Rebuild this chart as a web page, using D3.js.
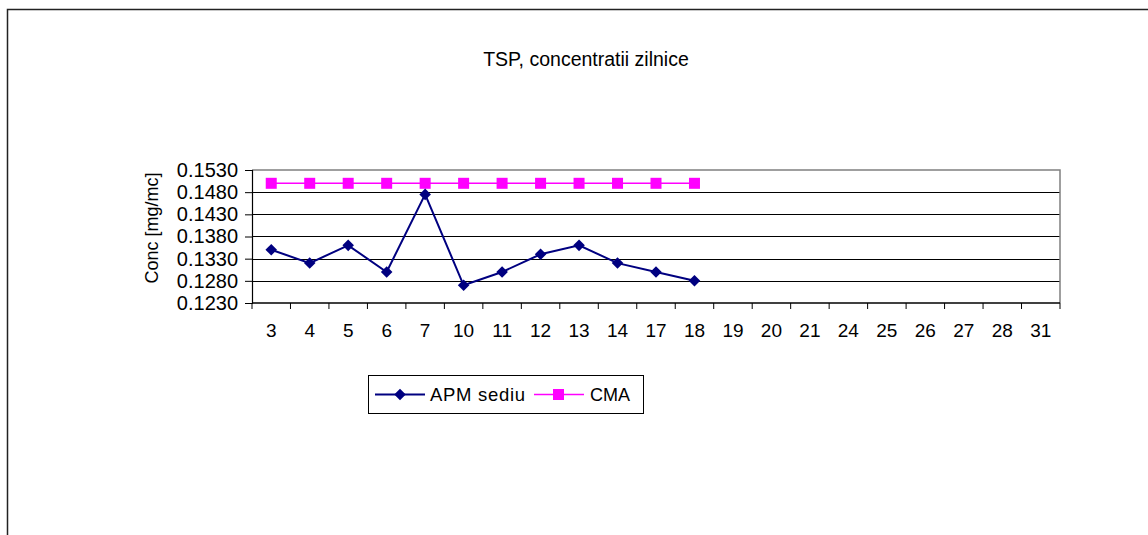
<!DOCTYPE html>
<html>
<head>
<meta charset="utf-8">
<script src="https://cdn.jsdelivr.net/npm/d3@7"></script>
<style>
body { margin: 0; background: #fff; }
text { font-family: "Liberation Sans", Arial, sans-serif; fill: #000; }
</style>
</head>
<body>
<svg id="chart" width="1148" height="535"></svg>
<script>
/// Data

var days = ["3","4","5","6","7","10","11","12","13","14","17","18","19","20","21","24","25","26","27","28","31"];
var apmSediu = [0.135, 0.132, 0.136, 0.130, 0.1475, 0.127, 0.130, 0.134, 0.136, 0.132, 0.130, 0.128];
var cma = [0.150, 0.150, 0.150, 0.150, 0.150, 0.150, 0.150, 0.150, 0.150, 0.150, 0.150, 0.150];
var yTicks = [0.123, 0.128, 0.133, 0.138, 0.143, 0.148, 0.153];

var svg = d3.select("#chart");

// outer frame (chart area border)
svg.append("path")
	.attr("d", "M7.5,535 L7.5,9.5 L1148,9.5")
	.attr("fill", "none")
	.attr("stroke", "#222")
	.attr("stroke-width", 1.5);

var plotLeft = 252, plotRight = 1060, plotTop = 170, plotBottom = 303;

var x = d3.scaleBand().domain(days).range([plotLeft, plotRight]);
var y = d3.scaleLinear().domain([0.123, 0.153]).range([plotBottom, plotTop]);

// gridlines
svg.append("g")
	.selectAll("line")
	.data(yTicks.slice(1, -1))
	.enter()
	.append("line")
	.attr("x1", plotLeft).attr("x2", plotRight)
	.attr("y1", d => Math.round(y(d)) + 0.5).attr("y2", d => Math.round(y(d)) + 0.5)
	.attr("stroke", "#000")
	.attr("stroke-width", 1);

// plot area border (top/right gray)
svg.append("path")
	.attr("d", "M" + plotLeft + "," + plotTop + " L" + plotRight + "," + plotTop + " L" + plotRight + "," + plotBottom)
	.attr("fill", "none")
	.attr("stroke", "#808080")
	.attr("stroke-width", 1.5);

// y axis
var yAxis = d3.axisLeft(y)
	.tickValues(yTicks)
	.tickFormat(d3.format(".4f"))
	.tickSize(7)
	.tickPadding(7);
var gy = svg.append("g").attr("transform", "translate(" + plotLeft + ",0)").call(yAxis);
gy.select(".domain").attr("stroke", "#000").attr("stroke-width", 1.2);
gy.selectAll(".tick line").attr("stroke", "#000");
gy.selectAll("text")
	.style("font-size", "20px")
	.style("font-family", "Liberation Sans, Arial, sans-serif")
	.attr("fill", "#000");

// x axis: ticks between categories
var gx = svg.append("g").attr("transform", "translate(0," + plotBottom + ")");
gx.append("line")
	.attr("x1", plotLeft).attr("x2", plotRight)
	.attr("stroke", "#000").attr("stroke-width", 1.5);
gx.selectAll("line.tk")
	.data(days.concat(["end"]))
	.enter()
	.append("line")
	.attr("class", "tk")
	.attr("x1", (d, i) => plotLeft + i * x.bandwidth())
	.attr("x2", (d, i) => plotLeft + i * x.bandwidth())
	.attr("y1", 0).attr("y2", 6)
	.attr("stroke", "#000");
gx.selectAll("text")
	.data(days)
	.enter()
	.append("text")
	.attr("x", d => x(d) + x.bandwidth() / 2)
	.attr("y", 34)
	.attr("text-anchor", "middle")
	.style("font-size", "19px")
	.text(d => d);

// y label
svg.append("text")
	.attr("transform", "translate(158,228) rotate(-90)")
	.attr("text-anchor", "middle")
	.style("font-size", "18px")
	.text("Conc [mg/mc]");

// title
svg.append("text")
	.attr("x", 586).attr("y", 66)
	.attr("text-anchor", "middle")
	.style("font-size", "19.5px")
	.text("TSP, concentratii zilnice");

var cx = (d, i) => x(days[i]) + x.bandwidth() / 2;
var line = d3.line().x((d, i) => cx(d, i)).y(d => y(d));

// CMA series
svg.append("path")
	.datum(cma)
	.attr("d", line)
	.attr("fill", "none")
	.attr("stroke", "#FF00FF")
	.attr("stroke-width", 1.5);
svg.selectAll("rect.cma")
	.data(cma)
	.enter()
	.append("rect")
	.attr("class", "cma")
	.attr("x", (d, i) => cx(d, i) - 5.5)
	.attr("y", d => y(d) - 5.5)
	.attr("width", 11).attr("height", 11)
	.attr("fill", "#FF00FF");

// APM sediu series
var diamond = d3.symbol().type(d3.symbolDiamond2).size(85);
svg.append("path")
	.datum(apmSediu)
	.attr("d", line)
	.attr("fill", "none")
	.attr("stroke", "#000080")
	.attr("stroke-width", 2);
svg.selectAll("path.apm")
	.data(apmSediu)
	.enter()
	.append("path")
	.attr("class", "apm")
	.attr("d", diamond)
	.attr("transform", (d, i) => "translate(" + cx(d, i) + "," + y(d) + ")")
	.attr("fill", "#000080");

/// Legend

var lg = svg.append("g").attr("transform", "translate(368,375)");
lg.append("rect")
	.attr("x", 0.5).attr("y", 0.5)
	.attr("width", 275).attr("height", 38)
	.attr("fill", "#fff").attr("stroke", "#000").attr("stroke-width", 1);

lg.append("line").attr("x1", 7).attr("x2", 57).attr("y1", 19.5).attr("y2", 19.5)
	.attr("stroke", "#000080").attr("stroke-width", 2);
lg.append("path").attr("d", diamond).attr("transform", "translate(32,19.5)").attr("fill", "#000080");
lg.append("text").attr("x", 62).attr("y", 26)
	.attr("textLength", 95).attr("lengthAdjust", "spacing")
	.style("font-size", "18.5px").text("APM sediu");

lg.append("line").attr("x1", 166).attr("x2", 216).attr("y1", 19.5).attr("y2", 19.5)
	.attr("stroke", "#FF00FF").attr("stroke-width", 1.5);
lg.append("rect").attr("x", 185).attr("y", 14).attr("width", 11).attr("height", 11).attr("fill", "#FF00FF");
lg.append("text").attr("x", 222).attr("y", 26).style("font-size", "18px").text("CMA");
</script>
</body>
</html>
